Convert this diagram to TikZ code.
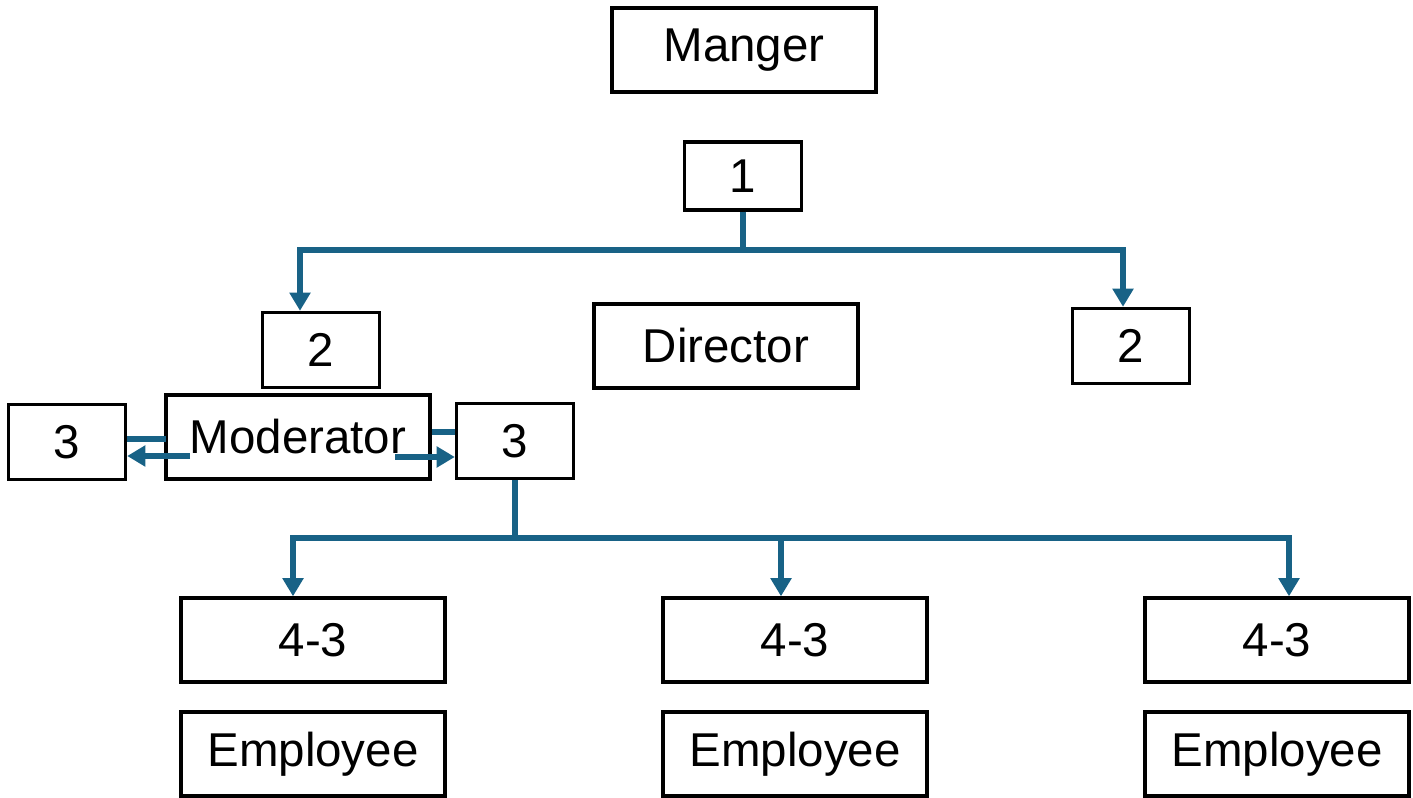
\documentclass[tikz,border=0pt]{standalone}
\usepackage{fontspec}
\setmainfont{Liberation Sans}
\usetikzlibrary{arrows.meta}
\definecolor{linkblue}{RGB}{24,98,134}
\tikzset{
  box/.style={draw,line width=0.95pt,inner sep=0pt,font=\fontsize{13.5}{16}\selectfont},
  wide/.style={box,minimum width=2.64cm,minimum height=0.84cm},
  small/.style={box,minimum width=1.17cm,minimum height=0.75cm},
  bus/.style={draw=linkblue,line width=1.6pt},
  link/.style={bus,-{Triangle[length=5.2pt,width=5.8pt]}},
}
\begin{document}
\begin{tikzpicture}[x=0.01cm,y=-0.01cm]
\useasboundingbox (0,0) rectangle (1413,798);
% boxes
\node[wide] (mgr) at (744,50) {Manger};
\node[small,minimum height=0.68cm] (one) at (743,176) {1};
\node[small] (twoL) at (321,350) {2};
\node[wide] (dir) at (726,346) {Director};
\node[small] (twoR) at (1131,346) {2};
\node[wide] (mod) at (298,437) {Moderator};
\node[small] (threeL) at (67,442) {3};
\node[small] (threeR) at (515,441) {3};
\foreach \x/\n in {313/a,795/b,1277/c}{
  \node[wide] (four\n) at (\x,640) {4-3};
  \node[wide] (emp\n) at (\x,754) {Employee};
}
% connectors
\coordinate (b1l) at (300,250);
\coordinate (b1r) at (1123,250);
\draw[link] (one.south) |- (b1l) -- (b1l |- twoL.north);
\draw[link] (one.south) |- (b1r) -- (b1r |- twoR.north);
\foreach \x/\n in {293/a,781/b,1289/c}{
  \coordinate (b2\n) at (\x,538);
  \draw[link] (threeR.south) |- (b2\n) -- (b2\n |- four\n.north);
}
\coordinate (tL) at (166,439);
\coordinate (mL) at (190,456);
\coordinate (tR) at (432,432);
\coordinate (mR) at (395,457);
\draw[bus] (tL) -- (tL -| threeL.east);
\draw[link] (mL) -- (mL -| threeL.east);
\draw[bus] (tR) -- (tR -| threeR.west);
\draw[link] (mR) -- (mR -| threeR.west);
\end{tikzpicture}
\end{document}
